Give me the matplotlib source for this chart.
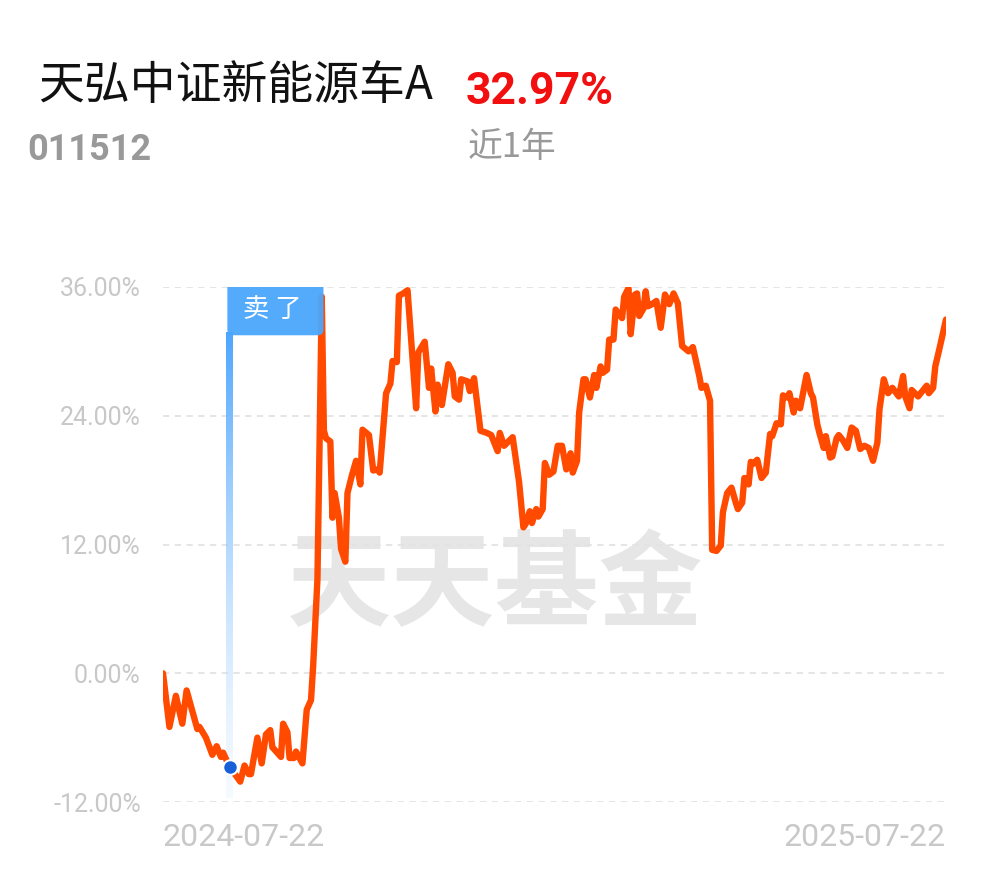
import matplotlib
matplotlib.use("Agg")
import matplotlib.pyplot as plt
from matplotlib import font_manager as fm
from matplotlib.patches import FancyBboxPatch
import numpy as np
import pandas as pd

# fund info
fund_name = "天弘中证新能源车A"
fund_code = "011512"
period_label = "近1年"
period_return = 32.97
start_date = "2024-07-22"
end_date = "2025-07-22"

# days since start_date, cumulative return (%)
days = [0, 3, 6, 9, 11, 16, 17, 20, 23, 25, 27, 28, 31, 36, 38, 40, 41, 44, 46, 48,
        50, 51, 55, 56, 58, 59, 61, 62, 65, 67, 69, 70, 72, 73, 74, 75, 76, 78, 79, 80,
        82, 83, 85, 86, 88, 90, 92, 93, 96, 98, 100, 101, 104, 106, 107, 109, 110, 112, 114, 118,
        119, 122, 124, 125, 127, 128, 130, 133, 135, 136, 138, 139, 142, 143, 145, 148, 151, 153, 156, 157,
        159, 161, 163, 166, 168, 169, 171, 172, 174, 175, 177, 178, 180, 182, 184, 186, 188, 190, 191, 193,
        194, 196, 197, 199, 201, 202, 204, 205, 207, 208, 210, 211, 212, 214, 215, 217, 218, 220, 221, 222,
        224, 225, 226, 228, 230, 232, 234, 236, 238, 240, 242, 245, 247, 250, 251, 253, 255, 256, 258, 260,
        261, 263, 265, 267, 268, 270, 271, 273, 274, 275, 277, 279, 281, 283, 284, 286, 288, 289, 291, 292,
        294, 295, 297, 300, 302, 303, 305, 306, 308, 309, 311, 312, 314, 315, 317, 319, 321, 323, 325, 327,
        329, 331, 333, 334, 336, 338, 340, 343, 345, 346, 348, 349, 352, 354, 356, 357, 359, 360, 362, 365]
returns = [0.0, -5.0, -2.1, -4.7, -1.6, -5.2, -5.0, -6.0, -7.6, -6.8, -7.8, -7.4, -8.7, -10.1, -8.6, -9.4, -9.4, -6.0, -8.4, -5.7,
           -5.3, -6.9, -7.8, -4.7, -5.5, -7.9, -7.9, -7.3, -8.4, -3.4, -2.5, 0.7, 8.8, 21.6, 35.1, 22.6, 21.9, 21.6, 14.5, 16.8,
           14.5, 11.6, 10.4, 16.8, 18.4, 19.8, 17.6, 22.7, 22.2, 18.9, 19.0, 18.7, 26.1, 27.0, 29.1, 29.0, 35.2, 35.4, 35.7, 24.7,
           29.9, 30.9, 26.6, 28.4, 24.4, 26.9, 25.0, 28.8, 28.0, 25.8, 25.5, 27.4, 27.2, 26.3, 27.5, 22.6, 22.4, 22.2, 20.7, 22.4,
           21.2, 21.6, 22.0, 17.8, 13.6, 13.9, 15.1, 14.0, 15.3, 14.6, 15.3, 19.6, 18.5, 18.8, 21.2, 21.2, 19.0, 20.5, 18.7, 19.8,
           24.3, 27.4, 27.4, 25.7, 27.8, 26.6, 28.6, 28.0, 28.3, 31.1, 31.1, 33.9, 33.6, 33.1, 35.1, 35.9, 31.6, 35.3, 35.4, 33.3,
           34.0, 35.6, 34.2, 34.4, 34.7, 32.2, 35.3, 34.4, 35.4, 34.5, 30.5, 30.0, 30.4, 27.7, 26.6, 26.8, 25.4, 11.5, 11.4, 11.9,
           15.0, 16.8, 17.3, 15.9, 15.3, 15.9, 18.2, 17.6, 19.7, 19.5, 19.9, 18.2, 18.7, 22.3, 22.1, 23.3, 23.2, 25.9, 25.7, 26.1,
           24.3, 25.4, 24.7, 27.8, 26.1, 25.7, 23.2, 22.4, 21.0, 22.1, 20.1, 20.2, 21.9, 22.2, 21.7, 21.0, 22.9, 22.6, 20.9, 21.2,
           21.0, 19.8, 21.5, 24.6, 27.4, 26.1, 26.6, 25.8, 27.7, 25.8, 24.7, 26.4, 25.8, 26.3, 26.8, 26.1, 26.6, 28.6, 30.3, 32.97]

yticks = [-12, 0, 12, 24, 36]
sell_day = 31
sell_label = "卖 了"
watermark = "天天基金"


def pick(*names):
    for n in names:
        try:
            fm.findfont(fm.FontProperties(family=n), fallback_to_default=False)
            return n
        except ValueError:
            pass
    return "DejaVu Sans"


NARROW = pick("Liberation Sans Narrow", "Roboto")
CJK = ["Noto Sans CJK SC", "DejaVu Sans"]
narrow_ok = NARROW == "Liberation Sans Narrow"

fig = plt.figure(figsize=(9.9, 8.77), dpi=100)
ax = fig.add_axes([163 / 990, 75 / 877, 783 / 990, 515 / 877])

ax.plot(days, returns, color="#ff4a00", lw=4.6, solid_joinstyle="round",
        solid_capstyle="round", zorder=3)

ax.set_xlim(0, 365)
ax.set_ylim(-12, 36)
for s in ax.spines.values():
    s.set_visible(False)

ax.set_yticks(yticks)
ax.set_yticklabels([f"{v:.2f}%" for v in yticks])
ax.grid(axis="y", color="#e3e3e3", lw=1.3, linestyle=(0, (3.5, 3)), zorder=1)
ax.set_axisbelow(True)

d0 = pd.Timestamp(start_date)
d1 = pd.Timestamp(end_date)
ax.set_xticks([0, (d1 - d0).days])
ax.set_xticklabels([d0.strftime("%Y-%m-%d"), d1.strftime("%Y-%m-%d")])
xl = ax.get_xticklabels()
xl[0].set_ha("left")
xl[1].set_ha("right")

ax.tick_params(axis="y", length=0, pad=16, labelsize=20 if narrow_ok else 18,
               labelcolor="#c8c8c8")
ax.tick_params(axis="x", length=0, pad=15, labelsize=26 if narrow_ok else 23,
               labelcolor="#c8c8c8")
for lab in ax.get_xticklabels() + ax.get_yticklabels():
    lab.set_family(NARROW)

# watermark
ax.text(0.424, 0.4165, watermark, transform=ax.transAxes, ha="center", va="center",
        fontsize=75, fontweight="bold", color="#e6e6e6", family=CJK, zorder=0.5)

# sell marker: gradient stem, label box, dot
sell_val = returns[days.index(sell_day)]
n = 200
grad = np.zeros((n, 1, 4))
top = np.array([0.30, 0.65, 1.0])
bot = np.array([0.88, 0.94, 1.0])
for i in range(n):
    t = i / (n - 1)
    grad[i, 0, :3] = top * (1 - t) + bot * t
    grad[i, 0, 3] = 1.0 - 0.7 * t
ax.imshow(grad, extent=[sell_day - 1.4, sell_day + 1.4, -11.6, 31.8], aspect="auto",
          zorder=2, interpolation="bilinear")

box = FancyBboxPatch((sell_day - 1.0, 31.5), 44.8, 4.9,
                     boxstyle="round,pad=0,rounding_size=2.6", mutation_aspect=0.2,
                     fc="#4ba7fb", ec="none", alpha=0.95, zorder=4)
ax.add_patch(box)
ax.text(sell_day + 20, 33.9, sell_label, ha="center", va="center", color="white",
        fontsize=19, family=CJK, zorder=5)

ax.scatter([sell_day], [sell_val], s=110, color="#1760d8", edgecolor="white",
           linewidth=1.5, zorder=6)

ax.set_xlim(0, 365)
ax.set_ylim(-12, 36)

# header
fig.text(38 / 990, 1 - 86 / 877, fund_name, fontsize=33, color="#111111",
         family=CJK, ha="left", va="center")
fig.text(466 / 990, 1 - 104 / 877, f"{period_return:.2f}%", fontsize=37 if narrow_ok else 32,
         color="#f20f0f", fontweight="bold", family=NARROW, ha="left", va="baseline")
fig.text(27 / 990, 1 - 160 / 877, fund_code, fontsize=30 if narrow_ok else 26, color="#999999",
         fontweight="bold", family=NARROW, ha="left", va="baseline")
fig.text(468 / 990, 1 - 147 / 877, period_label, fontsize=25, color="#999999",
         family=CJK, ha="left", va="center")

fig.savefig("out.png", dpi=100, facecolor="white")
